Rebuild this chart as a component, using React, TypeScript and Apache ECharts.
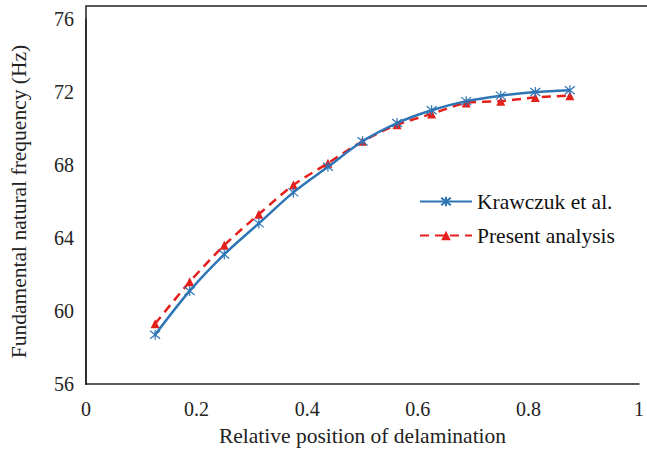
import React, { useEffect, useRef } from "react";
import * as echarts from "echarts";

const positions = [0.125, 0.1875, 0.25, 0.3125, 0.375, 0.4375, 0.5, 0.5625, 0.625, 0.6875, 0.75, 0.8125, 0.875];
const krawczuk = [58.7, 61.1, 63.1, 64.8, 66.5, 67.9, 69.3, 70.3, 71.0, 71.5, 71.8, 72.0, 72.1];
const present = [59.3, 61.6, 63.6, 65.3, 66.9, 68.1, 69.3, 70.2, 70.8, 71.4, 71.5, 71.7, 71.8];
const seriesNames = ["Krawczuk et al.", "Present analysis"];

const FONT = "Liberation Serif, Times New Roman, serif";
const FS = 20;
const FS_NAME = 21.5;
const STAR = "path://M5,0 L5,10 M1,1 L9,9 M1,9 L9,1";

export default function App() {
  const ref = useRef<HTMLDivElement>(null);
  useEffect(() => {
    if (!ref.current) return;
    const chart = echarts.init(ref.current, undefined, { renderer: "svg" });
    chart.setOption({
      animation: false,
      backgroundColor: "#ffffff",
      textStyle: { fontFamily: FONT, fontSize: FS },
      grid: { left: 86, right: 2, top: 19, bottom: 70 },
      xAxis: {
        type: "value",
        min: 0,
        max: 1,
        interval: 0.2,
        name: "Relative position of delamination",
        nameLocation: "middle",
        nameGap: 41,
        nameTextStyle: { fontFamily: FONT, fontSize: FS_NAME, color: "#222" },
        axisLine: { show: true, lineStyle: { color: "#222", width: 1.5 } },
        axisTick: { show: false },
        splitLine: { show: false },
        axisLabel: { fontFamily: FONT, fontSize: FS, color: "#222", margin: 15 },
      },
      yAxis: {
        type: "value",
        min: 56,
        max: 76,
        interval: 4,
        name: "Fundamental natural frequency (Hz)",
        nameLocation: "middle",
        nameGap: 56,
        nameTextStyle: { fontFamily: FONT, fontSize: FS_NAME, color: "#222" },
        axisLine: { show: true, lineStyle: { color: "#222", width: 1.5 } },
        axisTick: { show: false },
        splitLine: { show: false },
        axisLabel: { fontFamily: FONT, fontSize: FS, color: "#222", margin: 12 },
      },
      legend: {
        orient: "vertical",
        left: 414,
        top: 185,
        itemWidth: 52,
        itemHeight: 12,
        itemGap: 11,
        textStyle: { fontFamily: FONT, fontSize: FS_NAME, color: "#111", lineHeight: 23 },
        data: seriesNames,
      },
      graphic: [
        {
          type: "polyline",
          shape: { points: [[86, 385], [86, 6], [647, 6]] },
          style: { stroke: "#222", lineWidth: 1.5, fill: "none" },
          silent: true,
        },
      ],
      series: [
        {
          name: seriesNames[0],
          type: "line",
          smooth: 0.3,
          data: positions.map((x, i) => [x, krawczuk[i]]),
          lineStyle: { color: "#2e75b6", width: 2.5 },
          symbol: STAR,
          symbolSize: 10,
          itemStyle: { color: "#2e75b6", borderColor: "#2e75b6", borderWidth: 1.2 },
          z: 3,
        },
        {
          name: seriesNames[1],
          type: "line",
          smooth: 0.3,
          data: positions.map((x, i) => [x, present[i]]),
          lineStyle: { color: "#e3201c", width: 2.5, type: [9, 6] },
          symbol: "triangle",
          symbolSize: 9,
          itemStyle: { color: "#e3201c" },
          z: 2,
        },
      ],
    });
    return () => chart.dispose();
  }, []);
  return (
    <div
      ref={ref}
      style={{ position: "fixed", left: 0, top: 0, width: 647, height: 454, background: "#fff" }}
    />
  );
}
